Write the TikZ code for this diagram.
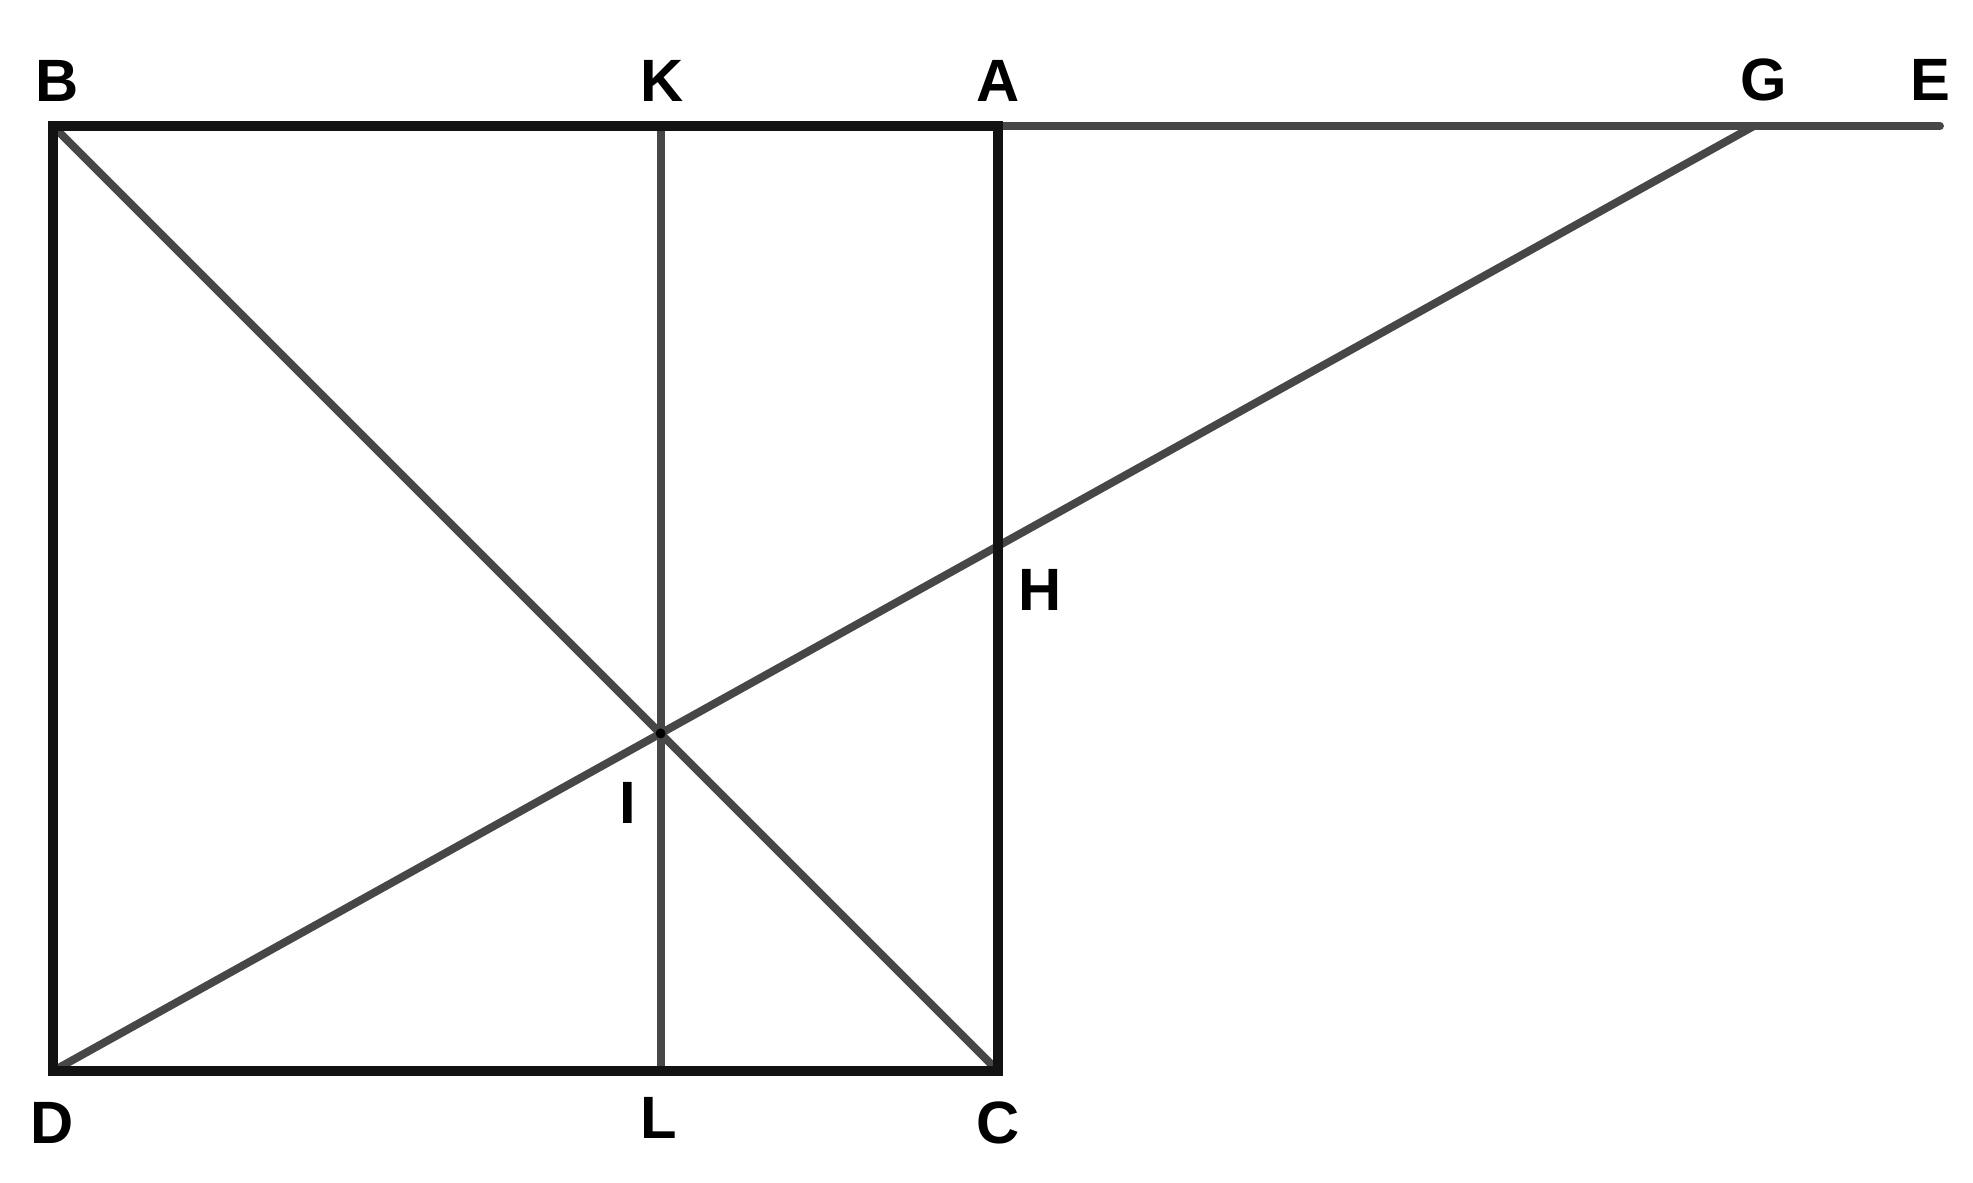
\documentclass[tikz,border=0pt]{standalone}
\usepackage{fontspec}
\setmainfont{Liberation Sans}

\begin{document}
\begin{tikzpicture}[
        edge/.style={line width=2.6pt, draw=black!93, line cap=round},
        thin edge/.style={line width=2.25pt, draw=black!72, line cap=round},
        lbl/.style={font=\fontsize{17}{20}\selectfont\bfseries, inner sep=0pt}
    ]
        \useasboundingbox (0,0) rectangle (19.73,11.83);

        % Corners of the square and the points on the line BE
        \coordinate (B) at (0.53,10.57);
        \coordinate (A) at (9.98,10.57);
        \coordinate (C) at (9.98,1.12);
        \coordinate (D) at (0.53,1.12);
        \coordinate (G) at (17.54,10.57);
        \coordinate (E) at (19.40,10.57);

        % Crossing points
        \coordinate (I) at (intersection of B--C and D--G);
        \coordinate (H) at (intersection of A--C and D--G);
        \coordinate (K) at (B -| I);
        \coordinate (L) at (D -| I);

        % Inner lines
        \draw[thin edge] (A) -- (E);
        \draw[thin edge] (K) -- (L);
        \draw[thin edge] (B) -- (C);
        \draw[thin edge] (D) -- (G);
        \fill[black] (I) circle (0.05);

        % The square
        \draw[edge, line join=miter] (B) -- (A) -- (C) -- (D) -- cycle;

        % Labels
        \node[lbl] (lB) at (0.57,11.02) {B};
        \node[lbl] (lK) at (6.62,11.02) {K};
        \node[lbl] (lA) at (9.98,11.02) {A};
        \node[lbl] (lG) at (17.64,11.03) {G};
        \node[lbl] (lE) at (19.30,11.03) {E};
        \node[lbl] (lH) at (10.40,5.93) {H};
        \node[lbl] (lI) at (6.28,3.80) {I};
        \node[lbl] (lD) at (0.52,0.60) {D};
        \node[lbl] (lL) at (6.59,0.65) {L};
        \node[lbl] (lC) at (9.98,0.60) {C};

    \end{tikzpicture}
\end{document}
